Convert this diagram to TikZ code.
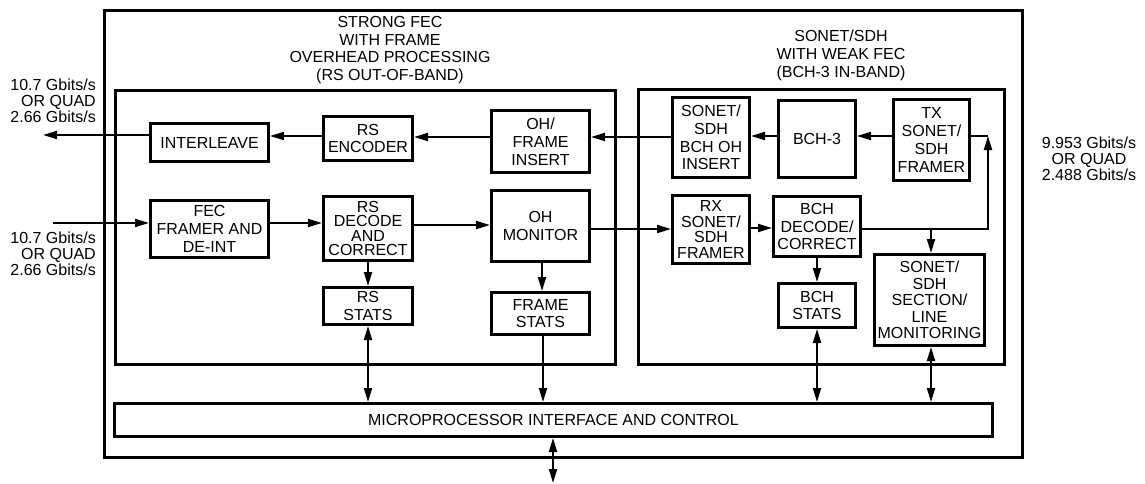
\documentclass[tikz,border=0pt]{standalone}
\usepackage{fontspec}
\setmainfont{Liberation Sans}
\usetikzlibrary{arrows.meta}
\newcommand{\bfont}{\fontsize{16}{17.8}\selectfont}
\newcommand{\tightfont}{\fontsize{16}{14.5}\selectfont}
\tikzset{
  blk/.style={draw, line width=3pt, align=center, inner sep=0pt, font=\bfont},
  frm/.style={draw, line width=3pt},
  lbl/.style={inner sep=0pt, font=\fontsize{16}{15.8}\selectfont},
  sig/.style={line width=2pt, -{Triangle[length=14pt,width=8pt]}},
  bus/.style={line width=2pt, {Triangle[length=14pt,width=8pt]}-{Triangle[length=14pt,width=8pt]}},
  wire/.style={line width=2pt},
}
\begin{document}
\begin{tikzpicture}[x=1pt,y=-1pt]
      \useasboundingbox (0,0) rectangle (1145,484);
      % frames
      \draw[frm] (104.5,10.5) rectangle (1022.5,457.5);
      \draw[frm] (115.5,90.5) rectangle (615.5,364.5);
      \draw[frm] (638.5,89.5) rectangle (1004.5,364.5);
      \node[lbl, align=center, font=\bfont, anchor=north] (tstrong) at (390,16) {STRONG FEC\\WITH FRAME\\OVERHEAD PROCESSING\\(RS OUT-OF-BAND)};
      \node[lbl, align=center, font=\bfont, anchor=north] (tsonet) at (841,30) {SONET/SDH\\WITH WEAK FEC\\(BCH-3 IN-BAND)};
      % line rates
      \node[lbl, align=right, anchor=north east] (rateout) at (96,79) {10.7 Gbits/s\\OR QUAD\\2.66 Gbits/s};
      \node[lbl, align=right, anchor=north east] (ratein) at (96,232) {10.7 Gbits/s\\OR QUAD\\2.66 Gbits/s};
      \node[lbl, align=center, anchor=north] (rateline) at (1089,137) {9.953 Gbits/s\\OR QUAD\\2.488 Gbits/s};
      % top row
      \node[blk, minimum width=118, minimum height=38] (ilv) at (209.5,142.5) {INTERLEAVE};
      \node[blk, minimum width=89, minimum height=44] (rsenc) at (368,138.5) {RS\\ENCODER};
      \node[blk, minimum width=98, minimum height=62] (ohins) at (540.5,141.5) {OH/\\FRAME\\INSERT};
      \node[blk, minimum width=77, minimum height=80] (bchins) at (711,137.5) {SONET/\\SDH\\BCH OH\\INSERT};
      \node[blk, minimum width=77, minimum height=77] (bch3) at (817,139) {BCH-3};
      \node[blk, minimum width=76, minimum height=81] (txfr) at (931.5,140) {TX\\SONET/\\SDH\\FRAMER};
      % bottom row
      \node[blk, minimum width=118, minimum height=57] (fec) at (209.5,229) {FEC\\FRAMER AND\\DE-INT};
      \node[blk, font=\tightfont, minimum width=89, minimum height=64] (rsdec) at (368,228.5) {RS\\DECODE\\AND\\CORRECT};
      \node[blk, minimum width=89, minimum height=37] (rsst) at (368,306) {RS\\STATS};
      \node[blk, minimum width=98, minimum height=71] (ohmon) at (540.5,226) {OH\\MONITOR};
      \node[blk, minimum width=98, minimum height=42] (frst) at (540.5,313.5) {FRAME\\STATS};
      \node[blk, font=\fontsize{16}{15.5}\selectfont, minimum width=77, minimum height=68] (rxfr) at (711,229.5) {RX\\SONET/\\SDH\\FRAMER};
      \node[blk, minimum width=87, minimum height=60] (bchdec) at (817,226.5) {BCH\\DECODE/\\CORRECT};
      \node[blk, minimum width=77, minimum height=44] (bchst) at (817,305.5) {BCH\\STATS};
      \node[blk, font=\fontsize{16}{16.5}\selectfont, minimum width=110, minimum height=91] (mon) at (929.5,300) {SONET/\\SDH\\SECTION/\\LINE\\MONITORING};
      \node[blk, minimum width=878, minimum height=33] (mpu) at (553.5,420) {MICROPROCESSOR INTERFACE AND CONTROL};
      % free ends
      \coordinate (outL) at (43,135);
      \coordinate (inL) at (53,223);
      \coordinate (loop) at (988,136);
      \coordinate (tap) at (931,229);
      \coordinate (host) at (553,483);
      % transmit path
      \draw[sig] (txfr.west |- 0,136) -- (bch3.east |- 0,136);
      \draw[sig] (bch3.west |- 0,136) -- (bchins.east |- 0,136);
      \draw[sig] (bchins.west |- 0,137) -- (ohins.east |- 0,137);
      \draw[sig] (ohins.west |- 0,137) -- (rsenc.east |- 0,137);
      \draw[sig] (rsenc.west |- 0,136) -- (ilv.east |- 0,136);
      \draw[sig] (ilv.west |- outL) -- (outL);
      % receive path
      \draw[sig] (inL) -- (fec.west |- inL);
      \draw[sig] (fec.east |- 0,223) -- (rsdec.west |- 0,223);
      \draw[sig] (rsdec.east |- 0,225) -- (ohmon.west |- 0,225);
      \draw[sig] (ohmon.east |- 0,229) -- (rxfr.west |- 0,229);
      \draw[sig] (rxfr.east |- 0,228) -- (bchdec.west |- 0,228);
      \draw[sig] (bchdec.east |- tap) -| (loop);
      \draw[wire] (txfr.east |- loop) -- (loop);
      \draw[sig] (tap) -- (tap |- mon.north);
      % stats
      \draw[sig] (rsdec.south) -- (rsst.north);
      \draw[sig] (ohmon.south -| 542,0) -- (frst.north -| 542,0);
      \draw[sig] (bchdec.south) -- (bchst.north);
      % control bus
      \draw[bus] (rsst.south) -- (rsst.south |- mpu.north);
      \draw[sig] (frst.south -| 543,0) -- (mpu.north -| 543,0);
      \draw[bus] (bchst.south) -- (bchst.south |- mpu.north);
      \draw[bus] (mon.south -| tap) -- (mpu.north -| tap);
      \draw[bus] (mpu.south -| host) -- (host);
    \end{tikzpicture}
\end{document}
